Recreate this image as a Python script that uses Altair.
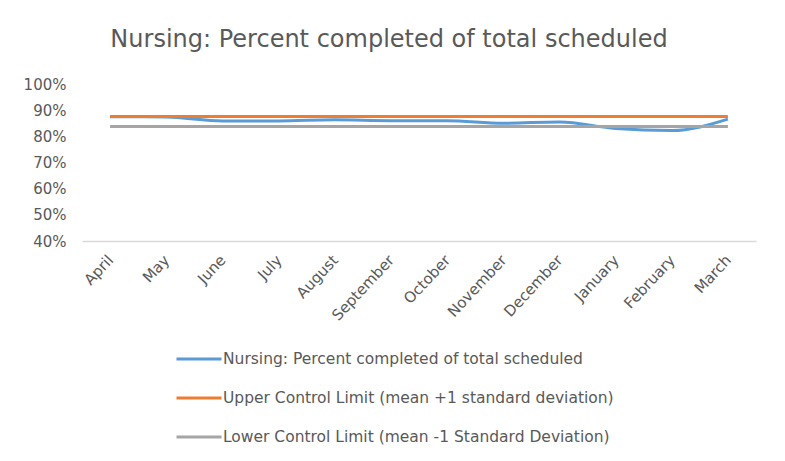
import altair as alt
import pandas as pd

months = ["April", "May", "June", "July", "August", "September", "October",
          "November", "December", "January", "February", "March"]
series_names = [
    "Nursing: Percent completed of total scheduled",
    "Upper Control Limit (mean +1 standard deviation)",
    "Lower Control Limit (mean -1 Standard Deviation)",
]
nursing = [0.875, 0.874, 0.859, 0.859, 0.863, 0.860, 0.860, 0.850, 0.855, 0.830, 0.822, 0.866]
ucl = [0.876] * 12
lcl = [0.838] * 12
colors = ["#5B9BD5", "#ED7D31", "#A5A5A5"]

rows = []
for name, vals in zip(series_names, [nursing, ucl, lcl]):
    for m, v in zip(months, vals):
        rows.append({"month": m, "series": name, "value": v})
df = pd.DataFrame(rows)

font = "DejaVu Sans"
grey = "#595959"

chart = alt.Chart(df).mark_line(strokeWidth=3, interpolate="monotone").encode(
    x=alt.X("month:N", sort=months, title=None,
            scale=alt.Scale(paddingInner=0, paddingOuter=0.5),
            axis=alt.Axis(labelAngle=-47, labelAlign="right", labelBaseline="middle",
                          ticks=False, domainColor="#D9D9D9", domainWidth=1.5,
                          labelColor=grey, labelFontSize=15, labelFont=font,
                          labelPadding=16, labelOverlap=False)),
    y=alt.Y("value:Q", title=None,
            scale=alt.Scale(domain=[0.4, 1.0], nice=False, zero=False),
            axis=alt.Axis(format=".0%", values=[0.4, 0.5, 0.6, 0.7, 0.8, 0.9, 1.0],
                          domain=False, ticks=False, grid=False,
                          labelColor=grey, labelFontSize=15, labelFont=font,
                          labelPadding=16)),
    color=alt.Color("series:N", sort=series_names,
                    scale=alt.Scale(domain=series_names, range=colors),
                    legend=alt.Legend(title=None, orient="none", legendX=93, legendY=268,
                                      direction="vertical", symbolType="stroke",
                                      symbolSize=2025, symbolStrokeWidth=3,
                                      labelFont=font, labelFontSize=15.5, labelColor=grey,
                                      labelOffset=0, clipHeight=14, rowPadding=23,
                                      labelLimit=600)),
    order=alt.Order("so:Q"),
).transform_calculate(
    so="indexof(" + str(series_names) + ", datum.series)"
).properties(
    width=674, height=157,
    title=alt.Title("Nursing: Percent completed of total scheduled",
                    font=font, fontSize=24, fontWeight="normal", color=grey,
                    anchor="middle", offset=25, dx=-30),
    autosize=alt.AutoSizeParams(type="none"),
    padding={"left": 74, "top": 76, "right": 21, "bottom": 212},
).configure(background="white").configure_view(stroke=None)

chart.save("out.html", embed_options={"renderer": "svg", "actions": False})
